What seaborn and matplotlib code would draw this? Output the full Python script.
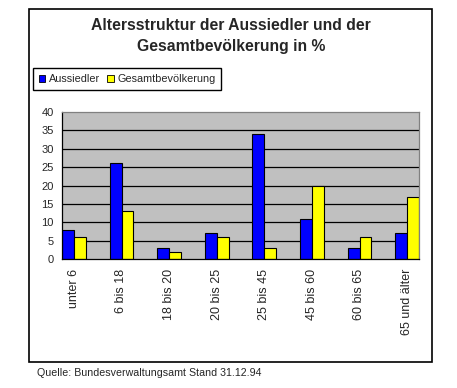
import pandas as pd
import matplotlib
matplotlib.use("Agg")
import matplotlib.pyplot as plt
import matplotlib.patches as mpatches
import seaborn as sns

age_groups = ["unter 6", "6 bis 18", "18 bis 20", "20 bis 25",
              "25 bis 45", "45 bis 60", "60 bis 65", "65 und älter"]
aussiedler = [8, 26, 3, 7, 34, 11, 3, 7]
gesamt = [6, 13, 2, 6, 3, 20, 6, 17]
series_names = ["Aussiedler", "Gesamtbevölkerung"]
colors = ["#0000FF", "#FFFF00"]
y_ticks = [0, 5, 10, 15, 20, 25, 30, 35, 40]

df = pd.DataFrame({
    "Alter": age_groups * 2,
    "Prozent": aussiedler + gesamt,
    "Gruppe": [series_names[0]] * len(age_groups) + [series_names[1]] * len(age_groups),
})

sns.set_style("white")
plt.rcParams["font.family"] = ["Liberation Sans", "DejaVu Sans"]

W, H = 457, 388
fig = plt.figure(figsize=(W / 100, H / 100), dpi=100)
fig.patch.set_facecolor("white")

# outer chart frame
fig.patches.append(mpatches.Rectangle((29 / W, 1 - 362 / H), 403 / W, 353 / H,
                                      transform=fig.transFigure, fill=False,
                                      edgecolor="black", linewidth=1.2))

ax = fig.add_axes([62 / W, 1 - 259 / H, 357 / W, 147 / H])
ax.set_facecolor("#C0C0C0")

sns.barplot(data=df, x="Alter", y="Prozent", hue="Gruppe", palette=colors,
            width=0.5, edgecolor="black", linewidth=0.8, ax=ax, legend=False,
            saturation=1)

ax.set_xlim(-0.25, 7.25)
ax.set_ylim(0, 40)
ax.set_yticks(y_ticks)
ax.set_yticklabels([str(t) for t in y_ticks], fontsize=8)
for t in y_ticks[1:-1]:
    ax.axhline(t, color="black", linewidth=0.9, zorder=0.5)

ax.set_xticks(range(len(age_groups)))
ax.set_xticklabels(age_groups, rotation=90, fontsize=9)
ax.set_xticks([k + d for k in range(len(age_groups)) for d in (-0.25, 0.25)], minor=True)
ax.tick_params(axis="x", which="major", length=0, pad=7)
ax.tick_params(axis="x", which="minor", length=4, width=0.8, color="black", direction="out")
ax.tick_params(axis="y", length=4, width=0.8, color="black", direction="out", pad=2)
ax.set_xlabel("")
ax.set_ylabel("")
for side in ["left", "bottom"]:
    ax.spines[side].set_color("black")
    ax.spines[side].set_linewidth(0.9)
for side in ["top", "right"]:
    ax.spines[side].set_color("#808080")
    ax.spines[side].set_linewidth(0.9)
ax.set_axisbelow(False)

fig.text(231 / W, 1 - 36 / H, "Altersstruktur der Aussiedler und der\nGesamtbevölkerung in %",
         ha="center", va="center", fontsize=11.3, fontweight="bold", linespacing=1.45)

handles = [mpatches.Patch(facecolor=c, edgecolor="black", linewidth=0.6) for c in colors]
fig.legend(handles, series_names, loc="upper left", bbox_to_anchor=(33 / W, 1 - 68 / H),
           ncol=2, fontsize=7.8, frameon=True, fancybox=False, edgecolor="black",
           handlelength=0.6, handleheight=0.6, handletextpad=0.3, columnspacing=0.7,
           borderpad=0.55, borderaxespad=0, framealpha=1)

fig.text(37 / W, 1 - 373 / H, "Quelle: Bundesverwaltungsamt Stand 31.12.94",
         ha="left", va="center", fontsize=7.7)

fig.savefig("out.png", dpi=100)
